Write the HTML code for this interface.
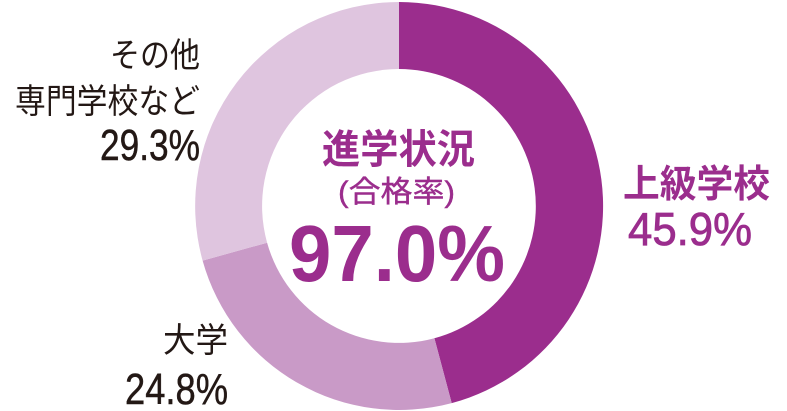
<!DOCTYPE html>
<html><head><meta charset="utf-8"><style>
html,body{margin:0;padding:0;background:#fff;}
svg{display:block;}
text{font-family:"Liberation Sans","Noto Sans CJK JP",sans-serif;}
</style></head><body>
<svg width="787" height="411" viewBox="0 0 787 411">
<path d="M399,2 A204,204 0 0 1 451.7,403.1 L434.4,338.3 A137,137 0 0 0 399,69 Z" fill="#9b2d8d"/>
<path d="M451.7,403.1 A204,204 0 0 1 202.6,260.6 L267.1,242.7 A137,137 0 0 0 434.4,338.3 Z" fill="#c99ac7"/>
<path d="M202.6,260.6 A204,204 0 0 1 399,2 L399,69 A137,137 0 0 0 267.1,242.7 Z" fill="#dfc5df"/>
<g fill="#9b2d8d">
<text x="322" y="163" font-size="40" font-weight="bold" textLength="153" lengthAdjust="spacingAndGlyphs">進学状況</text>
<text x="338" y="202" font-size="30" stroke="#9b2d8d" stroke-width="0.4" textLength="117" lengthAdjust="spacingAndGlyphs">(合格率)</text>
<text x="289" y="281" font-size="80" font-weight="bold" textLength="216" lengthAdjust="spacingAndGlyphs">97.0%</text>
<text x="623" y="197" font-size="38" font-weight="bold" textLength="147" lengthAdjust="spacingAndGlyphs">上級学校</text>
<text x="628" y="245" font-size="46" stroke="#9b2d8d" stroke-width="0.8" textLength="124" lengthAdjust="spacingAndGlyphs">45.9%</text>
</g>
<g fill="#231815">
<text x="110" y="67" font-size="34" textLength="90" lengthAdjust="spacingAndGlyphs">その他</text>
<text x="15" y="113" font-size="34" textLength="185" lengthAdjust="spacingAndGlyphs">専門学校など</text>
<text x="100" y="160" font-size="44" stroke="#231815" stroke-width="0.5" textLength="100" lengthAdjust="spacingAndGlyphs">29.3%</text>
<text x="163" y="352" font-size="34" textLength="65" lengthAdjust="spacingAndGlyphs">大学</text>
<text x="125" y="404" font-size="44" stroke="#231815" stroke-width="0.5" textLength="103" lengthAdjust="spacingAndGlyphs">24.8%</text>
</g>
</svg>
</body></html>
